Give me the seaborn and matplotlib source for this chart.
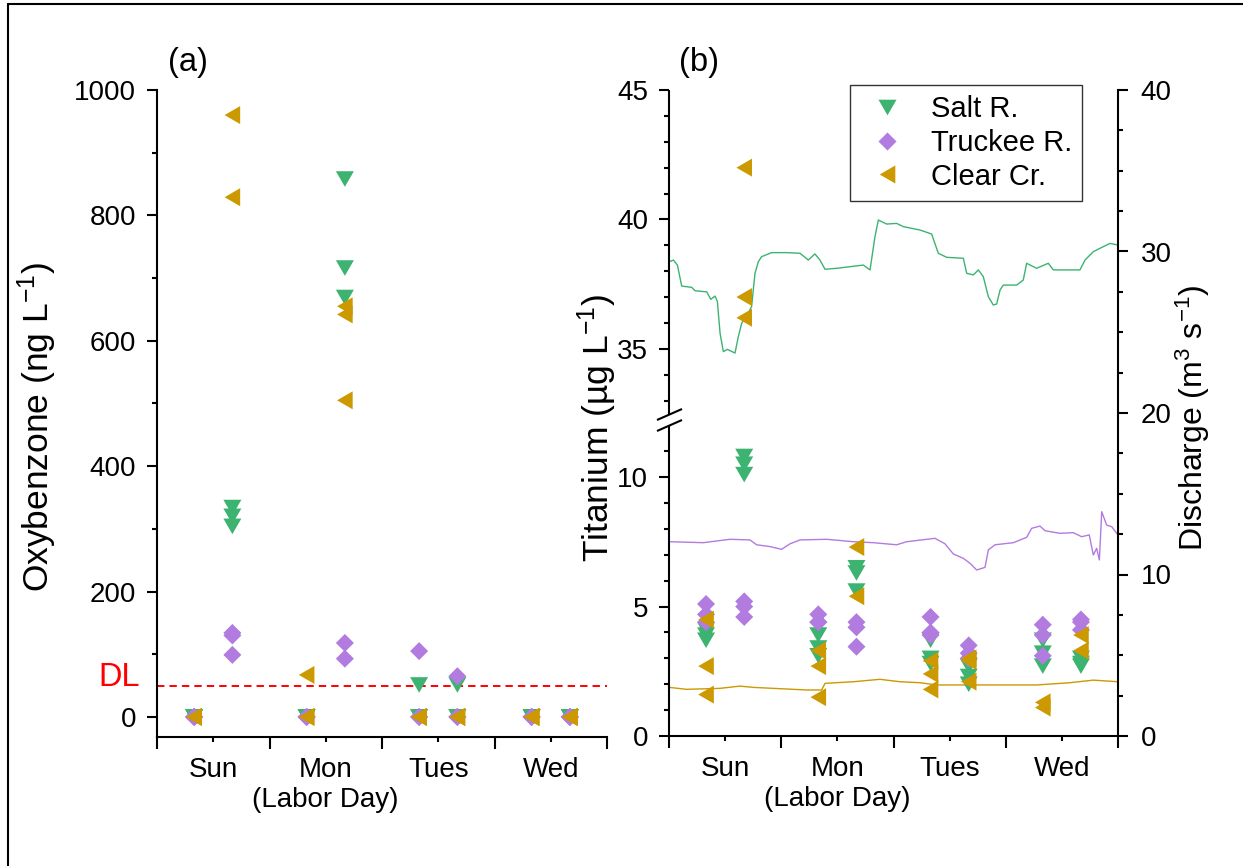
import numpy as np
import pandas as pd
import matplotlib
matplotlib.use("Agg")
import matplotlib.pyplot as plt
from matplotlib.lines import Line2D
from matplotlib.markers import MarkerStyle
from matplotlib.ticker import FixedLocator, FixedFormatter, NullFormatter
import seaborn as sns

# ---------------------------------------------------------------- data
sites = ["Salt R.", "Truckee R.", "Clear Cr."]
day_labels = ["Sun", "Mon\n(Labor Day)", "Tues", "Wed"]

# (a) oxybenzone, ng/L  (time in days from Sunday 00:00; non-detects at 0)
salt_oxy_t = [0.33, 0.33, 0.33, 0.67, 0.67, 0.67, 1.33, 1.33, 1.33, 1.67, 1.67, 1.67,
              2.33, 2.33, 2.33, 2.67, 2.67, 2.67, 3.33, 3.33, 3.33, 3.67, 3.67, 3.67]
salt_oxy = [0, 0, 0, 334, 320, 304, 0, 0, 0, 858, 716, 669,
            51, 0, 0, 51, 0, 0, 0, 0, 0, 0, 0, 0]
truckee_oxy_t = [0.33, 0.33, 0.33, 0.67, 0.67, 0.67, 1.33, 1.33, 1.33, 1.67, 1.67,
                 2.33, 2.33, 2.33, 2.67, 2.67, 2.67, 3.33, 3.33, 3.33, 3.67, 3.67, 3.67]
truckee_oxy = [0, 0, 0, 134, 130, 99, 0, 0, 0, 118, 93,
               105, 0, 0, 65, 0, 0, 0, 0, 0, 0, 0, 0]
clear_oxy_t = [0.33, 0.33, 0.33, 0.67, 0.67, 1.33, 1.33, 1.33, 1.67, 1.67, 1.67,
               2.33, 2.33, 2.33, 2.67, 2.67, 2.67, 3.33, 3.33, 3.33, 3.67, 3.67, 3.67]
clear_oxy = [0, 0, 0, 960, 829, 67, 0, 0, 655, 642, 505,
             0, 0, 0, 0, 0, 0, 0, 0, 0, 0, 0, 0]
detection_limit = 50

# (b) titanium, ug/L
salt_ti_t = [0.33, 0.33, 0.33, 0.67, 0.67, 0.67, 1.33, 1.33, 1.33, 1.67, 1.67, 1.67,
             2.33, 2.33, 2.33, 2.67, 2.67, 2.67, 3.33, 3.33, 3.33, 3.67, 3.67, 3.67]
salt_ti = [4.1, 3.9, 3.7, 10.8, 10.5, 10.1, 3.9, 3.4, 3.1, 6.5, 6.3, 5.6,
           3.7, 3.0, 2.8, 2.7, 2.3, 2.0, 3.7, 3.2, 2.7, 3.0, 2.8, 2.7]
truckee_ti_t = [0.33, 0.33, 0.33, 0.67, 0.67, 0.67, 1.33, 1.33, 1.33, 1.67, 1.67, 1.67,
                2.33, 2.33, 2.33, 2.67, 2.67, 2.67, 3.33, 3.33, 3.33, 3.67, 3.67, 3.67]
truckee_ti = [5.1, 4.7, 4.4, 5.2, 5.0, 4.6, 4.7, 4.4, 4.4, 4.4, 4.2, 3.45,
              4.6, 4.0, 3.9, 3.5, 3.2, 3.0, 4.3, 3.9, 3.1, 4.5, 4.4, 4.1]
clear_ti_t = [0.33, 0.33, 0.33, 0.67, 0.67, 0.67, 1.33, 1.33, 1.33, 1.67, 1.67,
              2.33, 2.33, 2.33, 2.67, 2.67, 2.67, 3.33, 3.33, 3.67, 3.67]
clear_ti = [4.5, 2.7, 1.6, 42.0, 37.0, 36.2, 3.3, 2.7, 1.5, 7.3, 5.4,
            2.9, 2.4, 1.8, 3.0, 2.9, 2.1, 1.3, 1.1, 3.9, 3.3]

# (b) stream discharge, m3/s
salt_q_t = [0.003, 0.039, 0.075, 0.113, 0.157, 0.202, 0.232, 0.336, 0.372, 0.410,
            0.431, 0.455, 0.484, 0.520, 0.588, 0.618, 0.648, 0.707, 0.736, 0.766,
            0.796, 0.825, 0.914, 1.048, 1.167, 1.241, 1.300, 1.345, 1.390, 1.494,
            1.613, 1.731, 1.791, 1.835, 1.865, 1.939, 2.028, 2.088, 2.236, 2.340,
            2.399, 2.474, 2.622, 2.652, 2.711, 2.756, 2.800, 2.845, 2.889, 2.919,
            2.949, 2.978, 3.097, 3.156, 3.186, 3.275, 3.379, 3.424, 3.661, 3.706,
            3.780, 3.869, 3.929, 4.0]
salt_q = [29.37, 29.47, 29.16, 27.86, 27.82, 27.78, 27.57, 27.5, 27.04, 27.24,
          26.9, 24.93, 23.8, 23.94, 23.71, 24.74, 25.57, 26.19, 26.6, 28.65,
          29.37, 29.68, 29.93, 29.93, 29.89, 29.47, 29.85, 29.47, 28.9, 28.96,
          29.06, 29.16, 28.86, 30.92, 31.95, 31.7, 31.74, 31.54, 31.33, 31.08,
          29.89, 29.64, 29.58, 28.65, 28.55, 28.86, 28.44, 27.2, 26.69, 26.75,
          27.61, 27.92, 27.92, 28.23, 29.27, 28.96, 29.27, 28.86, 28.86, 29.47,
          29.99, 30.3, 30.5, 30.4]
truckee_q_t = [0.003, 0.306, 0.543, 0.721, 0.781, 0.899, 1.003, 1.078, 1.167, 1.405,
               1.642, 1.821, 2.028, 2.117, 2.370, 2.459, 2.533, 2.622, 2.682, 2.741,
               2.815, 2.845, 2.904, 3.068, 3.186, 3.231, 3.305, 3.350, 3.483, 3.602,
               3.676, 3.744, 3.780, 3.810, 3.834, 3.855, 3.899, 3.944, 4.0]
truckee_q = [12.03, 11.97, 12.18, 12.14, 11.84, 11.73, 11.56, 11.9, 12.14, 12.18,
             12.03, 11.97, 11.84, 12.03, 12.24, 11.9, 11.27, 11.0, 10.69, 10.28,
             10.44, 11.52, 11.84, 11.97, 12.3, 12.86, 13.0, 12.71, 12.55, 12.59,
             12.34, 12.45, 11.21, 11.62, 10.9, 13.89, 13.06, 12.96, 12.45]
clear_q_t = [0.003, 0.157, 0.454, 0.632, 0.751, 0.988, 1.226, 1.360, 1.390, 1.642,
             1.879, 2.058, 2.236, 2.384, 2.682, 2.978, 3.275, 3.572, 3.780, 4.0]
clear_q = [3.01, 2.89, 2.95, 3.09, 3.01, 2.93, 2.85, 2.85, 3.26, 3.36,
           3.51, 3.36, 3.30, 3.16, 3.16, 3.16, 3.16, 3.30, 3.46, 3.36]

# ---------------------------------------------------------------- style
sns.set_theme(style="ticks", rc={
    "axes.edgecolor": "black", "xtick.color": "black", "ytick.color": "black",
    "text.color": "black", "axes.labelcolor": "black",
    "axes.linewidth": 1.5, "xtick.major.width": 1.5, "ytick.major.width": 1.5,
    "xtick.minor.width": 1.5, "ytick.minor.width": 1.5,
    "xtick.direction": "out", "ytick.direction": "out",
})
plt.rcParams["font.family"] = ["Liberation Sans", "DejaVu Sans"]
plt.rcParams["mathtext.fontset"] = "custom"
plt.rcParams["mathtext.rm"] = "Liberation Sans"
plt.rcParams["mathtext.it"] = "Liberation Sans:italic"
plt.rcParams["mathtext.bf"] = "Liberation Sans:bold"

colors = {"Salt R.": "#3CB371", "Truckee R.": "#B27BDF", "Clear Cr.": "#CC9900"}
markers = {
    "Salt R.": MarkerStyle([(-1, 0.866), (1, 0.866), (0, -0.866)]),
    "Truckee R.": MarkerStyle([(0, 1), (1, 0), (0, -1), (-1, 0)]),
    "Clear Cr.": MarkerStyle([(0.866, 1), (0.866, -1), (-0.866, 0)]),
}
MS = 168          # marker area, pt^2
TICK_FS = 20
LABEL_FS = 25.5

def frame(site, t, v, col):
    return pd.DataFrame({"time": t, col: v, "site": site})

df_oxy = pd.concat([frame("Salt R.", salt_oxy_t, salt_oxy, "value"),
                    frame("Truckee R.", truckee_oxy_t, truckee_oxy, "value"),
                    frame("Clear Cr.", clear_oxy_t, clear_oxy, "value")], ignore_index=True)
df_ti = pd.concat([frame("Salt R.", salt_ti_t, salt_ti, "value"),
                   frame("Truckee R.", truckee_ti_t, truckee_ti, "value"),
                   frame("Clear Cr.", clear_ti_t, clear_ti, "value")], ignore_index=True)
df_q = pd.concat([frame("Salt R.", salt_q_t, salt_q, "discharge"),
                  frame("Truckee R.", truckee_q_t, truckee_q, "discharge"),
                  frame("Clear Cr.", clear_q_t, clear_q, "discharge")], ignore_index=True)

W, H = 1243, 866
fig = plt.figure(figsize=(W / 100, H / 100), dpi=100)
ax_a = fig.add_axes([157 / W, 129 / H, 450 / W, 647 / H])
ax_b = fig.add_axes([669 / W, 130 / H, 449 / W, 646 / H])
ax_q = ax_b.twinx()


def style_days(ax):
    ax.set_xlim(0, 4)
    ax.xaxis.set_major_locator(FixedLocator([0, 1, 2, 3, 4]))
    ax.xaxis.set_major_formatter(NullFormatter())
    ax.xaxis.set_minor_locator(FixedLocator([0.5, 1.5, 2.5, 3.5]))
    ax.xaxis.set_minor_formatter(FixedFormatter(day_labels))
    ax.tick_params(axis="x", which="major", length=8.5)
    ax.tick_params(axis="x", which="minor", length=3.6, pad=11, labelsize=TICK_FS)
    ax.set_xlabel("")


# ---------------------------------------------------------------- panel (a)
sns.scatterplot(data=df_oxy, x="time", y="value", hue="site", style="site",
                hue_order=sites, style_order=sites, palette=colors, markers=markers,
                s=MS, linewidth=0, legend=False, ax=ax_a, zorder=3)
ax_a.axhline(detection_limit, color="#FF0000", lw=1.4, ls=(0, (3.8, 2.6)), zorder=2)
ax_a.text(-0.038, detection_limit, "DL", color="#FF0000", fontsize=23.5,
          ha="right", va="baseline", transform=ax_a.get_yaxis_transform())
ax_a.set_ylim(-32, 1000)
ax_a.yaxis.set_major_locator(FixedLocator([0, 200, 400, 600, 800, 1000]))
ax_a.yaxis.set_minor_locator(FixedLocator([100, 300, 500, 700, 900]))
ax_a.tick_params(axis="y", which="major", length=7.2, pad=8, labelsize=TICK_FS)
ax_a.tick_params(axis="y", which="minor", length=3.6)
style_days(ax_a)
sns.despine(ax=ax_a, top=True, right=True)
ax_a.set_ylabel("Oxybenzone (ng L$^{\\mathregular{-1}}$)", fontsize=LABEL_FS,
                va="center", ha="center")
ax_a.yaxis.set_label_coords(-0.267, 0.48)
ax_a.text(0.069, 1.042, "(a)", transform=ax_a.transAxes, fontsize=23.5,
          ha="center", va="center")

# ---------------------------------------------------------------- panel (b)
BRK_LO, BRK_HI, GAP = 12.0, 32.5, 0.46


def fwd(y):
    y = np.asarray(y, dtype=float)
    return np.where(y <= BRK_LO, y,
                    np.where(y >= BRK_HI, y - (BRK_HI - BRK_LO) + GAP,
                             BRK_LO + (y - BRK_LO) * GAP / (BRK_HI - BRK_LO)))


def inv(v):
    v = np.asarray(v, dtype=float)
    return np.where(v <= BRK_LO, v,
                    np.where(v >= BRK_LO + GAP, v + (BRK_HI - BRK_LO) - GAP,
                             BRK_LO + (v - BRK_LO) * (BRK_HI - BRK_LO) / GAP))


ax_b.set_yscale("function", functions=(fwd, inv))
ax_b.set_ylim(0, 45)

# discharge traces on the right axis, behind the titanium markers
sns.lineplot(data=df_q, x="time", y="discharge", hue="site", hue_order=sites,
             palette=colors, estimator=None, sort=False, lw=1.0, legend=False, ax=ax_q)
ax_q.set_ylim(0, 40)
ax_q.yaxis.set_major_locator(FixedLocator([0, 10, 20, 30, 40]))
ax_q.yaxis.set_minor_locator(FixedLocator([2.5, 5, 7.5, 12.5, 15, 17.5, 22.5, 25,
                                           27.5, 32.5, 35, 37.5]))
ax_q.tick_params(axis="y", which="major", length=7.2, pad=9, labelsize=TICK_FS)
ax_q.tick_params(axis="y", which="minor", length=3.6)
for side in ("left", "top", "bottom"):
    ax_q.spines[side].set_visible(False)
ax_q.set_ylabel("Discharge (m$^{\\mathregular{3}}$ s$^{\\mathregular{-1}}$)",
                fontsize=23, va="center", ha="center")
ax_q.yaxis.set_label_coords(1.166, 0.492)

ax_b.set_zorder(ax_q.get_zorder() + 1)
ax_b.patch.set_visible(False)

sns.scatterplot(data=df_ti, x="time", y="value", hue="site", style="site",
                hue_order=sites, style_order=sites, palette=colors, markers=markers,
                s=MS, linewidth=0, legend=False, ax=ax_b, zorder=3)
ax_b.set_ylim(0, 45)
ax_b.yaxis.set_major_locator(FixedLocator([0, 5, 10, 35, 40, 45]))
ax_b.yaxis.set_major_formatter(FixedFormatter(["0", "5", "10", "35", "40", "45"]))
ax_b.yaxis.set_minor_locator(FixedLocator([1, 2, 3, 4, 6, 7, 8, 9, 11,
                                           33, 34, 36, 37, 38, 39, 41, 42, 43, 44]))
ax_b.tick_params(axis="y", which="major", length=7.2, pad=8, labelsize=TICK_FS)
ax_b.tick_params(axis="y", which="minor", length=3.6)
style_days(ax_b)
for side in ("left", "top", "right"):
    ax_b.spines[side].set_visible(False)

# broken left spine with slash marks
ytrans = ax_b.get_yaxis_transform()
for lo, hi in ((0, BRK_LO), (BRK_HI, 45)):
    ax_b.plot([0, 0], [lo, hi], transform=ytrans, color="black", lw=1.5,
              clip_on=False, solid_capstyle="butt", zorder=5)
ax_b.plot([0, 0], [BRK_LO, BRK_HI], transform=ytrans, ls="none",
          marker=MarkerStyle([(-1, -0.44), (1, 0.44)]), ms=18, mec="black",
          mew=1.5, clip_on=False, zorder=5)

ax_b.set_ylabel("Titanium (µg L$^{\\mathregular{-1}}$)", fontsize=LABEL_FS,
                va="center", ha="center")
ax_b.yaxis.set_label_coords(-0.160, 0.477)
ax_b.text(0.067, 1.042, "(b)", transform=ax_b.transAxes, fontsize=23.5,
          ha="center", va="center")

handles = [Line2D([], [], ls="none", marker=markers[s], ms=13, color=colors[s],
                  mec="none") for s in sites]
leg = ax_b.legend(handles, sites, loc="upper right", bbox_to_anchor=(0.92, 1.008),
                  fontsize=21, frameon=True, fancybox=False, edgecolor="#333333",
                  framealpha=1, borderpad=0.35, handlelength=1.85,
                  handletextpad=0.56, labelspacing=0.2, borderaxespad=0)
leg.get_frame().set_linewidth(1.0)

# thin outer frame lines along the left and top edges
fig.add_artist(Line2D([8 / W, 8 / W], [0, 1 - 4 / H], transform=fig.transFigure,
                      color="black", lw=1.5))
fig.add_artist(Line2D([8 / W, 1], [1 - 4 / H, 1 - 4 / H], transform=fig.transFigure,
                      color="black", lw=1.5))

fig.savefig("out.png", dpi=100)
